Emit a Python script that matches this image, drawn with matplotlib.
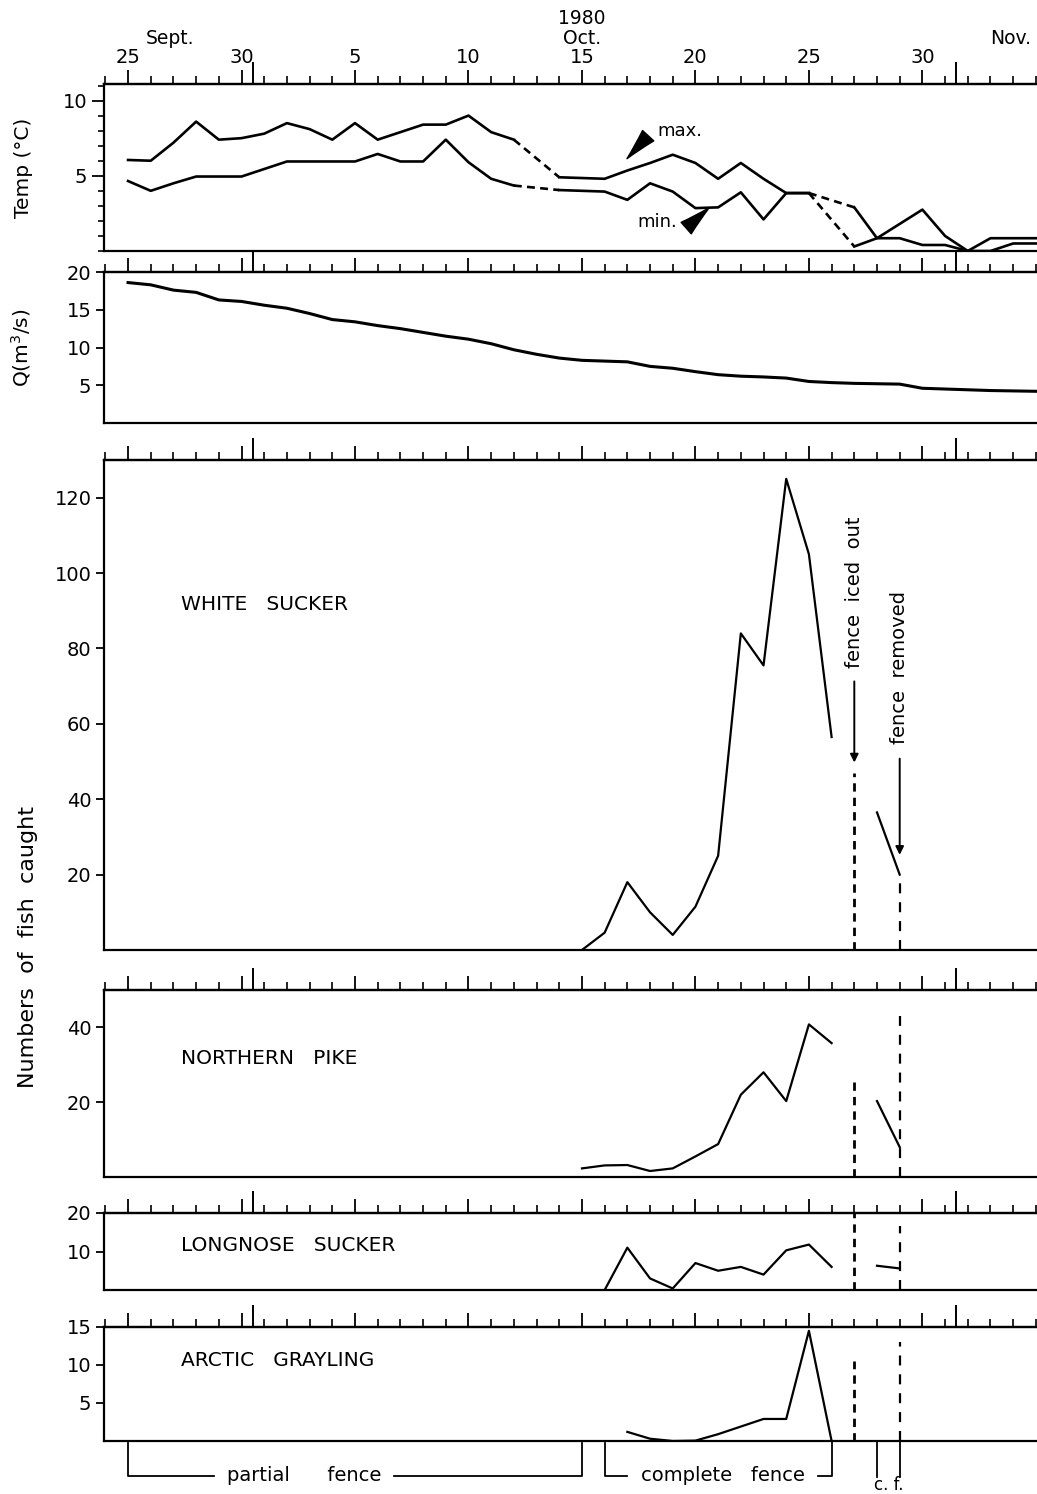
import numpy as np
import matplotlib.pyplot as plt
from matplotlib.ticker import FixedLocator, MultipleLocator, NullFormatter

plt.rcParams['font.family'] = 'DejaVu Sans'
plt.rcParams['axes.linewidth'] = 1.6

# day 0 = 25 Sept. 1980
days = np.arange(41)

# daily water temperature (deg C), nan = no reading
temp_max = [6.05, 6.0, 7.2, 8.6, 7.4, 7.5, 7.8, 8.5, 8.1, 7.4,
            8.5, 7.4, 7.9, 8.4, 8.4, 9.0, 7.9, 7.4, np.nan, 4.9,
            4.85, 4.8, 5.35, 5.85, 6.4, 5.85, 4.8, 5.85, 4.8, 3.85,
            3.85, np.nan, 2.9, 0.85, 1.8, 2.75, 1.0, 0.0, 0.85, 0.85, 0.85]
temp_min = [4.65, 4.0, 4.5, 4.95, 4.95, 4.95, 5.45, 5.95, 5.95, 5.95,
            5.95, 6.45, 5.95, 5.95, 7.4, 5.9, 4.8, 4.35, np.nan, 4.05,
            4.0, 3.95, 3.4, 4.5, 3.95, 2.85, 2.9, 3.9, 2.1, 3.85,
            3.85, np.nan, 0.3, 0.85, 0.85, 0.4, 0.4, 0.0, 0.0, 0.5, 0.5]

# discharge (m3/s)
discharge = [18.6, 18.3, 17.6, 17.3, 16.3, 16.1, 15.6, 15.2, 14.5, 13.7,
             13.4, 12.9, 12.5, 12.0, 11.5, 11.1, 10.5, 9.7, 9.1, 8.6,
             8.3, 8.2, 8.1, 7.5, 7.25, 6.8, 6.4, 6.2, 6.1, 5.95,
             5.5, 5.35, 5.25, 5.2, 5.15, 4.6, 4.5, 4.4, 4.3, 4.25, 4.2]

# daily catches
ws_days = np.arange(20, 32)
white_sucker = [0, 4.6, 18, 10, 4, 11.5, 25, 84, 75.5, 125, 105, 56.5]
np_days = np.arange(20, 32)
northern_pike = [2.3, 3.1, 3.2, 1.6, 2.3, 5.5, 8.8, 22, 28, 20.3, 40.8, 35.8]
ls_days = np.arange(21, 32)
longnose_sucker = [0, 11, 3, 0.4, 7, 5, 6, 4, 10.3, 11.8, 6]
ag_days = np.arange(22, 32)
arctic_grayling = [1.2, 0.3, 0, 0.05, 0.9, 1.9, 2.9, 2.9, 14.5, 0]

# catches after the fence iced out (Oct. 28-29)
late_days = [33, 34]
white_sucker_late = [36.5, 20]
northern_pike_late = [20.3, 8.0]
longnose_sucker_late = [6.3, 5.6]

iced_out_day = 32
removed_day = 34
top_labels = ['25', '30', '5', '10', '15', '20', '25', '30']

W, H = 1037, 1494
fig = plt.figure(figsize=(W / 100, H / 100), dpi=100)
X0 = 104


def panel(top, bottom):
    return fig.add_axes([X0 / W, 1 - bottom / H, (W - X0) / W, (bottom - top) / H])


def style(ax, yticks, ylim, minor=None):
    ax.set_xlim(-1.06, 40.05)
    ax.set_ylim(*ylim)
    ax.spines['right'].set_visible(False)
    ax.xaxis.set_ticks_position('top')
    ax.xaxis.set_major_locator(FixedLocator(range(0, 40, 5)))
    ax.xaxis.set_minor_locator(MultipleLocator(1))
    ax.xaxis.set_major_formatter(NullFormatter())
    ax.tick_params(axis='x', which='major', direction='out', length=10, width=1.3)
    ax.tick_params(axis='x', which='minor', direction='out', length=5.5, width=1.2)
    # month boundaries
    sec = ax.secondary_xaxis('top')
    sec.set_xticks([5.5, 36.5])
    sec.tick_params(length=16, width=1.4, labeltop=False)
    ax.set_yticks(yticks)
    if minor is not None:
        ax.yaxis.set_minor_locator(MultipleLocator(minor))
    ax.tick_params(axis='y', which='major', direction='out', length=6, width=1.3,
                   labelsize=14, pad=3)
    ax.tick_params(axis='y', which='minor', direction='out', length=4, width=1.2)


LW = 1.9

# temperature
ax_t = panel(84, 251)
style(ax_t, [5, 10], (0, 11.1), minor=1)
ax_t.tick_params(axis='y', which='major', length=9)
for series in (temp_max, temp_min):
    vals = np.array(series, dtype=float)
    ax_t.plot(days, vals, color='k', lw=LW)
    for i in np.where(np.isnan(vals))[0]:
        ax_t.plot([days[i - 1], days[i + 1]], [vals[i - 1], vals[i + 1]],
                  color='k', lw=LW, ls=(0, (3, 2)))
ax_t.xaxis.set_major_formatter(plt.FixedFormatter(top_labels))
ax_t.tick_params(axis='x', which='major', labeltop=True, labelsize=14, pad=2)
ax_t.set_ylabel('Temp (°C)', fontsize=14.5)
ax_t.yaxis.set_label_coords(-0.076, 0.5)
ax_t.text(24.3, 8.0, 'max.', fontsize=13, ha='center', va='center')
ax_t.annotate('', xy=(21.9, 6.0), xytext=(23.0, 7.8),
              arrowprops=dict(arrowstyle='wedge,tail_width=1.1,shrink_factor=0.45',
                              fc='k', ec='k', lw=1))
ax_t.text(23.3, 1.9, 'min.', fontsize=13, ha='center', va='center')
ax_t.annotate('', xy=(25.7, 3.0), xytext=(24.5, 1.4),
              arrowprops=dict(arrowstyle='wedge,tail_width=1.1,shrink_factor=0.45',
                              fc='k', ec='k', lw=1))
for d, txt in [(1.85, 'Sept.'), (20, 'Oct.'), (38.9, 'Nov.')]:
    ax_t.annotate(txt, xy=(d, 1), xycoords=('data', 'axes fraction'),
                  xytext=(0, 46), textcoords='offset pixels',
                  ha='center', va='center', fontsize=13.5)
ax_t.annotate('1980', xy=(20, 1), xycoords=('data', 'axes fraction'),
              xytext=(0, 66), textcoords='offset pixels',
              ha='center', va='center', fontsize=13.5)

# discharge
ax_q = panel(272, 423)
style(ax_q, [5, 10, 15, 20], (0, 20))
ax_q.plot(days, discharge, color='k', lw=2.2)
ax_q.set_ylabel('Q(m$^3$/s)', fontsize=14.5)
ax_q.yaxis.set_label_coords(-0.076, 0.5)

# fish panels
ax_ws = panel(460, 950)
style(ax_ws, range(20, 121, 20), (0, 130))
ax_np = panel(990, 1177)
style(ax_np, [20, 40], (0, 50))
ax_ls = panel(1213, 1290)
style(ax_ls, [10, 20], (0, 20))
ax_ag = panel(1327, 1441)
style(ax_ag, [5, 10, 15], (0, 15))

ax_ws.plot(ws_days, white_sucker, color='k', lw=1.6)
ax_ws.plot(late_days, white_sucker_late, color='k', lw=1.6)
ax_np.plot(np_days, northern_pike, color='k', lw=1.6)
ax_np.plot(late_days, northern_pike_late, color='k', lw=1.6)
ax_ls.plot(ls_days, longnose_sucker, color='k', lw=1.6)
ax_ls.plot(late_days, longnose_sucker_late, color='k', lw=1.6)
ax_ag.plot(ag_days, arctic_grayling, color='k', lw=1.6)

names = [(ax_ws, 'WHITE   SUCKER', 0.706), (ax_np, 'NORTHERN   PIKE', 0.636),
         (ax_ls, 'LONGNOSE   SUCKER', 0.584), (ax_ag, 'ARCTIC   GRAYLING', 0.71)]
for ax, name, yf in names:
    ax.text(0.0825, yf, name, transform=ax.transAxes, fontsize=14.5, va='center')

# fence events
ice_ls = (0, (3, 2.2))
rem_ls = (0, (4.5, 4))
for ax, ice_top, rem_top in [(ax_ws, 47, 18), (ax_np, 25.5, 43),
                             (ax_ls, 20, 16.5), (ax_ag, 10.5, 13)]:
    ax.plot([iced_out_day] * 2, [0, ice_top], color='k', lw=2, ls=ice_ls)
    ax.plot([removed_day] * 2, [0, rem_top], color='k', lw=1.6, ls=rem_ls)

ax_ws.text(iced_out_day, 95, 'fence  iced  out', rotation=90, fontsize=14,
           ha='center', va='center')
ax_ws.annotate('', xy=(iced_out_day, 49), xytext=(iced_out_day, 72),
               arrowprops=dict(arrowstyle='-|>', color='k', lw=1.4, mutation_scale=12))
ax_ws.text(removed_day, 75, 'fence  removed', rotation=90, fontsize=14,
           ha='center', va='center')
ax_ws.annotate('', xy=(removed_day, 24.5), xytext=(removed_day, 51.5),
               arrowprops=dict(arrowstyle='-|>', color='k', lw=1.4, mutation_scale=12))

fig.text(28 / W, 1 - 947 / H, 'Numbers  of  fish  caught', rotation=90,
         fontsize=16, ha='center', va='center')

# fence periods along the bottom
ax_b = fig.add_axes([X0 / W, 0, (W - X0) / W, (H - 1441) / H])
ax_b.set_xlim(-1.06, 40.05)
ax_b.set_ylim(0, 1)
ax_b.axis('off')
yb = 0.34
ax_b.plot([0, 0, 3.8], [0.96, yb, yb], color='k', lw=1.3)
ax_b.plot([11.7, 20, 20], [yb, yb, 0.96], color='k', lw=1.3)
ax_b.text(7.75, yb, 'partial      fence', fontsize=14, ha='center', va='center')
ax_b.plot([21, 21, 22.0], [0.96, yb, yb], color='k', lw=1.3)
ax_b.plot([30.4, 31, 31], [yb, yb, 1.0], color='k', lw=1.3)
ax_b.text(26.2, yb, 'complete   fence', fontsize=14, ha='center', va='center')
ax_b.plot([33, 33], [1.0, 0.32], color='k', lw=1.3)
ax_b.plot([removed_day] * 2, [1.0, 0.32], color='k', lw=1.3)
ax_b.text(33.5, 0.0, 'c. f.', fontsize=12, ha='center', va='bottom')

fig.savefig('out.png', dpi=100)
